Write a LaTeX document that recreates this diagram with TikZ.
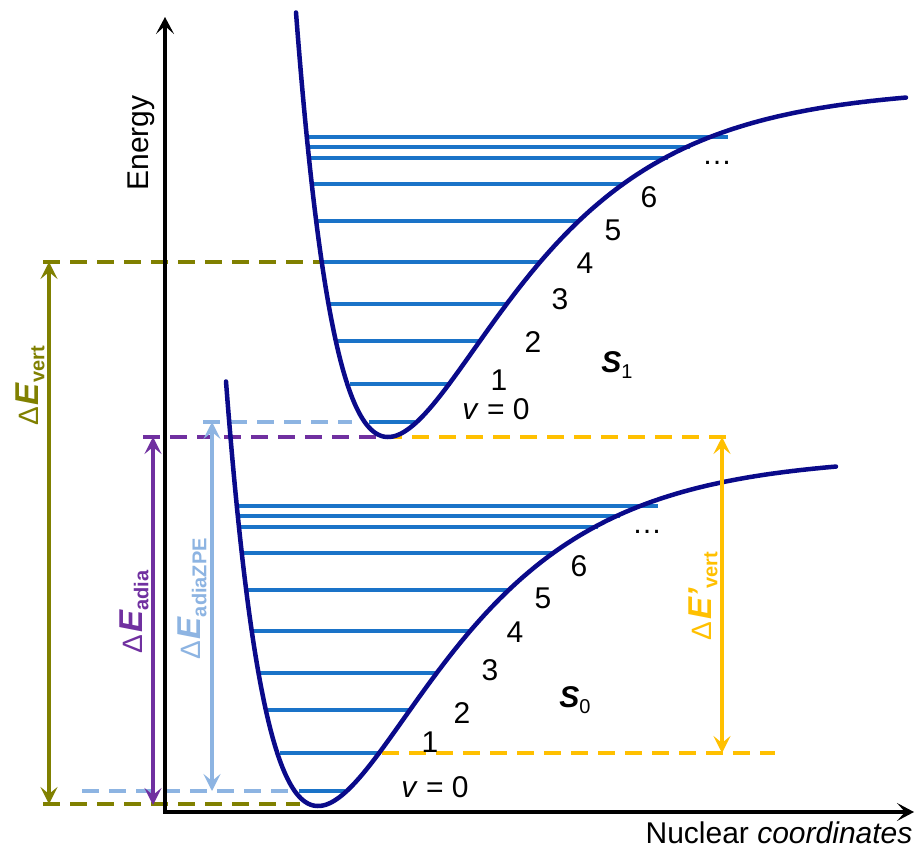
\documentclass[tikz,border=0pt]{standalone}
\usepackage{fontspec}
\setmainfont{Liberation Sans}
\usetikzlibrary{arrows.meta}
\definecolor{navy}{HTML}{0A0A8A}
\definecolor{lvl}{HTML}{1A73C8}
\definecolor{olv}{HTML}{808000}
\definecolor{purp}{HTML}{7030A0}
\definecolor{lblue}{HTML}{8DB4E2}
\definecolor{ylw}{HTML}{FFC000}
\newcommand\dElabel[2]{{\fontsize{28}{30}\selectfont Δ}\kern2pt{\fontsize{33}{36}\selectfont\bfseries\itshape E#2}\raisebox{-6pt}{\fontsize{20}{22}\selectfont\bfseries #1}}
\newcommand\Slabel[1]{{\fontsize{30}{34}\selectfont\bfseries\itshape S}\raisebox{-6pt}{\fontsize{20}{22}\selectfont #1}}
\newcommand\drawpes{%
  \foreach \yy/\xl/\xr in {791/299/345, 753/280/381, 710/268/409, 673/260/437, 631/253/470, 590/247/510, 553/243/553, 527/240/598, 516/238/620, 506/238/658}
    {\draw[lvline] (\xl,\yy) -- (\xr,\yy);}
  \draw[pes] plot[domain=226:836, samples=400, smooth] (\x, {806 - 350*(1-exp(-0.00807*(\x-318)))*(1-exp(-0.00807*(\x-318)))});
}
\tikzset{
  pes/.style={draw=navy, line width=4.5pt, line cap=round},
  lvline/.style={draw=lvl, line width=4pt},
  dsh/.style={line width=4pt, dash pattern=on 17pt off 10pt},
  arr/.style={line width=3.2pt, {Stealth[length=17pt,width=17pt,inset=7pt]}-{Stealth[length=17pt,width=17pt,inset=7pt]}},
  axis/.style={line width=3.2pt, black, line join=miter, {Stealth[length=17pt,width=18pt,inset=8pt]}-{Stealth[length=17pt,width=18pt,inset=8pt]}},
  txt/.style={font=\fontsize{30}{34}\selectfont, inner sep=0pt},
  rl/.style={rotate=90, inner sep=0pt},
}
\begin{document}
\begin{tikzpicture}[x=1pt,y=-1pt]
\useasboundingbox[fill=white] (0,0) rectangle (919,851);
% dashed guide lines
\draw[dsh,olv] (43,262) -- (320,262);
\draw[dsh,olv] (43,804) -- (300,804);
\draw[dsh,lblue] (203,422) -- (352,422);
\draw[dsh,lblue] (82,791) -- (288,791);
\draw[dsh,purp] (143,437) -- (385,437);
\draw[dsh,ylw] (385,437) -- (727,437);
\draw[dsh,ylw] (382,753) -- (775,753);
% axes
\coordinate (ytop) at (165,17);
\coordinate (O) at (165,812);
\coordinate (xend) at (914,812);
\draw[axis] (ytop) -- (O) -- (xend);
\node[txt, rotate=90] (energy) at (141,143) {Energy};
\node[txt] (nuc) at (779,833) {Nuclear \textit{coordinates}};
% potential energy surfaces
\drawpes
\begin{scope}[shift={(70,-369)}]
\drawpes
\end{scope}
% energy arrows
\coordinate (vt) at (49,262); \coordinate (vb) at (49,804);
\coordinate (at) at (153,437); \coordinate (ab) at (153,805);
\coordinate (zt) at (212,422); \coordinate (zb) at (212,791);
\coordinate (yt) at (722,437); \coordinate (yb) at (722,753);
\draw[arr,olv] (vt) -- (vb);
\draw[arr,purp] (at) -- (ab);
\draw[arr,lblue] (zt) -- (zb);
\draw[arr,ylw] (yt) -- (yb);
\node[rl,olv] (lvert) at (30,386) {\dElabel{vert}{}};
\node[rl,purp] (ladia) at (134,612) {\dElabel{adia}{}};
\node[rl,lblue] (lzpe) at (192,599) {\dElabel{adiaZPE}{}};
\node[rl,ylw] (lvp) at (703,596) {\dElabel{vert}{’}};
% S0 labels
\node[txt] (a0) at (435,787) {\textit{v} = 0};
\node[txt] (a1) at (430,742) {1};
\node[txt] (a2) at (462,713) {2};
\node[txt] (a3) at (490,670) {3};
\node[txt] (a4) at (515,632) {4};
\node[txt] (a5) at (543,598) {5};
\node[txt] (a6) at (579,566) {6};
\node[txt, anchor=base] (adots) at (647,533) {…};
\node[txt] (sz) at (575,700) {\Slabel{0}};
% S1 labels
\node[txt] (b0) at (496,409) {\textit{v} = 0};
\node[txt] (b1) at (499,380) {1};
\node[txt] (b2) at (533,342) {2};
\node[txt] (b3) at (560,299) {3};
\node[txt] (b4) at (585,263) {4};
\node[txt] (b5) at (613,230) {5};
\node[txt] (b6) at (649,197) {6};
\node[txt, anchor=base] (bdots) at (717,164) {…};
\node[txt] (so) at (617,365) {\Slabel{1}};
\end{tikzpicture}
\end{document}
